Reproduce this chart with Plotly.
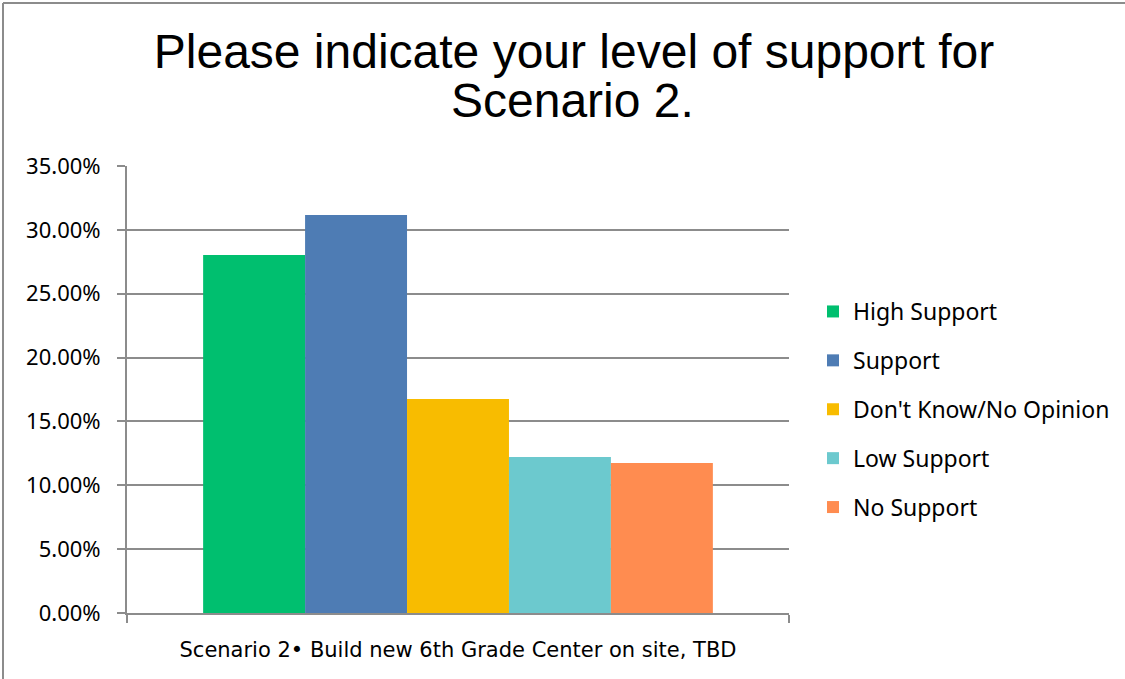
import plotly.graph_objects as go

# Survey answers for the single scenario
category = "Scenario 2• Build new 6th Grade Center on site, TBD"
responses = ["High Support", "Support", "Don't Know/No Opinion", "Low Support", "No Support"]
shares = [0.2803, 0.3117, 0.1676, 0.1222, 0.1175]
colors = ["#00BF6F", "#4E7CB4", "#F8BC00", "#6CC9CE", "#FF8C50"]
y_ticks = [0, 0.05, 0.10, 0.15, 0.20, 0.25, 0.30, 0.35]

W, H = 1125, 679
L, R, T, B = 127, 789, 166, 613


def px_x(x):
    return (x - L) / (R - L)


def px_y(y):
    return (B - y) / (B - T)


fig = go.Figure()
for i, (name, val, col) in enumerate(zip(responses, shares, colors)):
    fig.add_trace(go.Bar(x=[category], y=[val], name=name, marker_color=col,
                         marker_line_width=0, legendgroup=str(i)))

grey = "#8C8C8C"
fig.update_layout(
    width=W, height=H,
    margin=dict(l=L, r=W - R, t=T, b=H - B, autoexpand=False),
    paper_bgcolor="white", plot_bgcolor="white",
    barmode="group", bargap=0.23, bargroupgap=0,
    font=dict(family="Noto Sans", color="black"),
    title=dict(text="Please indicate your level of support for",
               x=574 / W, xanchor="center", y=1 - 51 / H, yanchor="middle",
               font=dict(family="Liberation Sans", size=48, color="black")),
    legend=dict(x=px_x(813), xanchor="left", y=px_y(290),
                yanchor="top", traceorder="grouped", tracegroupgap=16,
                font=dict(size=23), itemwidth=30),
    showlegend=True,
)
# second line of the title (tighter line spacing than plotly's <br>)
fig.add_annotation(text="Scenario 2.", xref="paper", yref="paper",
                   x=px_x(572), y=px_y(100), xanchor="center", yanchor="middle",
                   showarrow=False,
                   font=dict(family="Liberation Sans", size=48, color="black"))

fig.update_yaxes(range=[0, 0.35], tickvals=y_ticks, tickformat=".2%",
                 showgrid=True, gridcolor=grey, gridwidth=2,
                 showline=True, linecolor=grey, linewidth=2,
                 ticks="outside", ticklen=8, tickcolor=grey, tickwidth=2,
                 ticklabelstandoff=12,
                 tickfont=dict(size=22), zeroline=False)
fig.update_xaxes(showline=True, linecolor=grey, linewidth=2,
                 ticks="outside", ticklen=8, tickcolor=grey, tickwidth=2,
                 tickson="boundaries", ticklabelstandoff=17,
                 tickfont=dict(family="DejaVu Sans", size=21))

# chart frame
fig.add_shape(type="line", xref="paper", yref="paper",
              x0=px_x(3), x1=px_x(3), y0=px_y(3), y1=px_y(700),
              line=dict(color=grey, width=2))
fig.add_shape(type="line", xref="paper", yref="paper",
              x0=px_x(3), x1=px_x(1130), y0=px_y(3), y1=px_y(3),
              line=dict(color=grey, width=2))

fig.write_html("out.html", config={"displayModeBar": False},
               post_script="document.body.style.margin='0';")
